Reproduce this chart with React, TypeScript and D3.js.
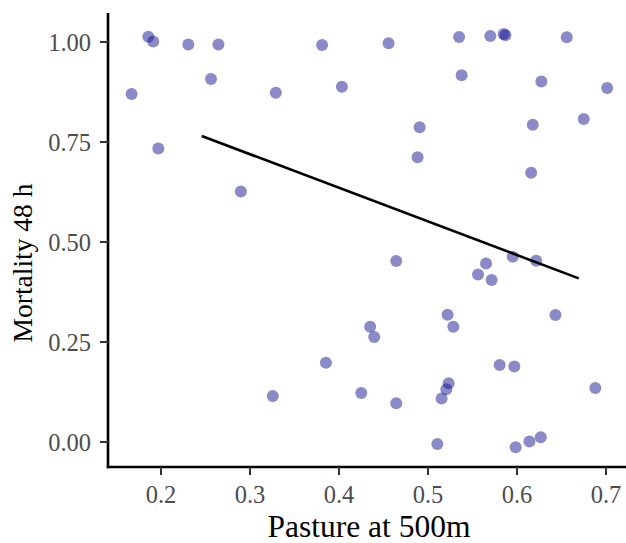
import React from "react";
import * as d3 from "d3";

const pasture = [
  0.167, 0.1857, 0.1913, 0.197, 0.2307, 0.2562, 0.2645, 0.2897, 0.329, 0.381,
  0.4033, 0.4557, 0.4883, 0.4906, 0.5349, 0.5378, 0.570, 0.585, 0.587, 0.6177,
  0.6159, 0.6274, 0.6559, 0.675, 0.7013,
  0.5105, 0.5985, 0.614, 0.6267, 0.4643, 0.425, 0.5153, 0.5206, 0.5232, 0.5805,
  0.597, 0.688, 0.3853, 0.3256, 0.435, 0.4396, 0.522, 0.5285, 0.6432, 0.4643,
  0.5562, 0.5652, 0.5715, 0.5952, 0.6215,
];
const mortality = [
  0.870, 1.013, 1.001, 0.734, 0.994, 0.9075, 0.994, 0.626, 0.873, 0.9925,
  0.888, 0.997, 0.712, 0.787, 1.0125, 0.917, 1.015, 1.020, 1.017, 0.793,
  0.673, 0.901, 1.012, 0.8075, 0.885,
  -0.005, -0.013, 0.001, 0.012, 0.097, 0.1225, 0.109, 0.132, 0.147, 0.1925,
  0.189, 0.135, 0.198, 0.115, 0.288, 0.2625, 0.318, 0.288, 0.3175, 0.4525,
  0.419, 0.446, 0.405, 0.463, 0.453,
];
const fitX = [0.2458, 0.6694];
const fitY = [0.765, 0.409];
const xTicks = [0.2, 0.3, 0.4, 0.5, 0.6, 0.7];
const yTicks = [0, 0.25, 0.5, 0.75, 1];

export default function App() {
  const W = 626;
  const H = 543;
  const left = 108;
  const bottom = 467;
  const top = 13;
  const right = 626;
  const x = d3.scaleLinear().domain([0.2, 0.7]).range([161, 606]);
  const y = d3.scaleLinear().domain([0, 1]).range([442, 42]);
  const line = d3
    .line<number>()
    .x((_, i) => x(fitX[i]))
    .y((d) => y(d));
  const font = "'Liberation Serif', 'Times New Roman', serif";
  return (
    <svg
      width={W}
      height={H}
      style={{ position: "absolute", left: 0, top: 0, background: "#fff" }}
    >
      <rect width={W} height={H} fill="#fff" />
      {pasture.map((px, i) => (
        <circle
          key={i}
          cx={x(px)}
          cy={y(mortality[i])}
          r={6}
          fill="rgb(10,10,140)"
          fillOpacity={0.48}
        />
      ))}
      <path d={line(fitY) || ""} stroke="#000" strokeWidth={2.6} fill="none" />
      <line x1={left} x2={left} y1={top} y2={bottom + 1.2} stroke="#000" strokeWidth={2.6} />
      <line x1={left - 1.2} x2={right} y1={bottom} y2={bottom} stroke="#000" strokeWidth={2.6} />
      {xTicks.map((t) => (
        <g key={t}>
          <line x1={x(t)} x2={x(t)} y1={bottom} y2={bottom + 8} stroke="#333" strokeWidth={2} />
          <text
            x={x(t)}
            y={503}
            textAnchor="middle"
            fontFamily={font}
            fontSize={24.5}
            fill="#4d4d4d"
          >
            {d3.format(".1f")(t)}
          </text>
        </g>
      ))}
      {yTicks.map((t) => (
        <g key={t}>
          <line x1={left - 8} x2={left} y1={y(t)} y2={y(t)} stroke="#333" strokeWidth={2} />
          <text
            x={91}
            y={y(t) + 8.5}
            textAnchor="end"
            fontFamily={font}
            fontSize={24.5}
            fill="#4d4d4d"
          >
            {d3.format(".2f")(t)}
          </text>
        </g>
      ))}
      <text
        x={369}
        y={537}
        textAnchor="middle"
        fontFamily={font}
        fontSize={31.5}
        fill="#000"
      >
        Pasture at 500m
      </text>
      <text
        transform="translate(32,263) rotate(-90)"
        textAnchor="middle"
        fontFamily={font}
        fontSize={27.5}
        fill="#000"
      >
        Mortality 48 h
      </text>
    </svg>
  );
}
